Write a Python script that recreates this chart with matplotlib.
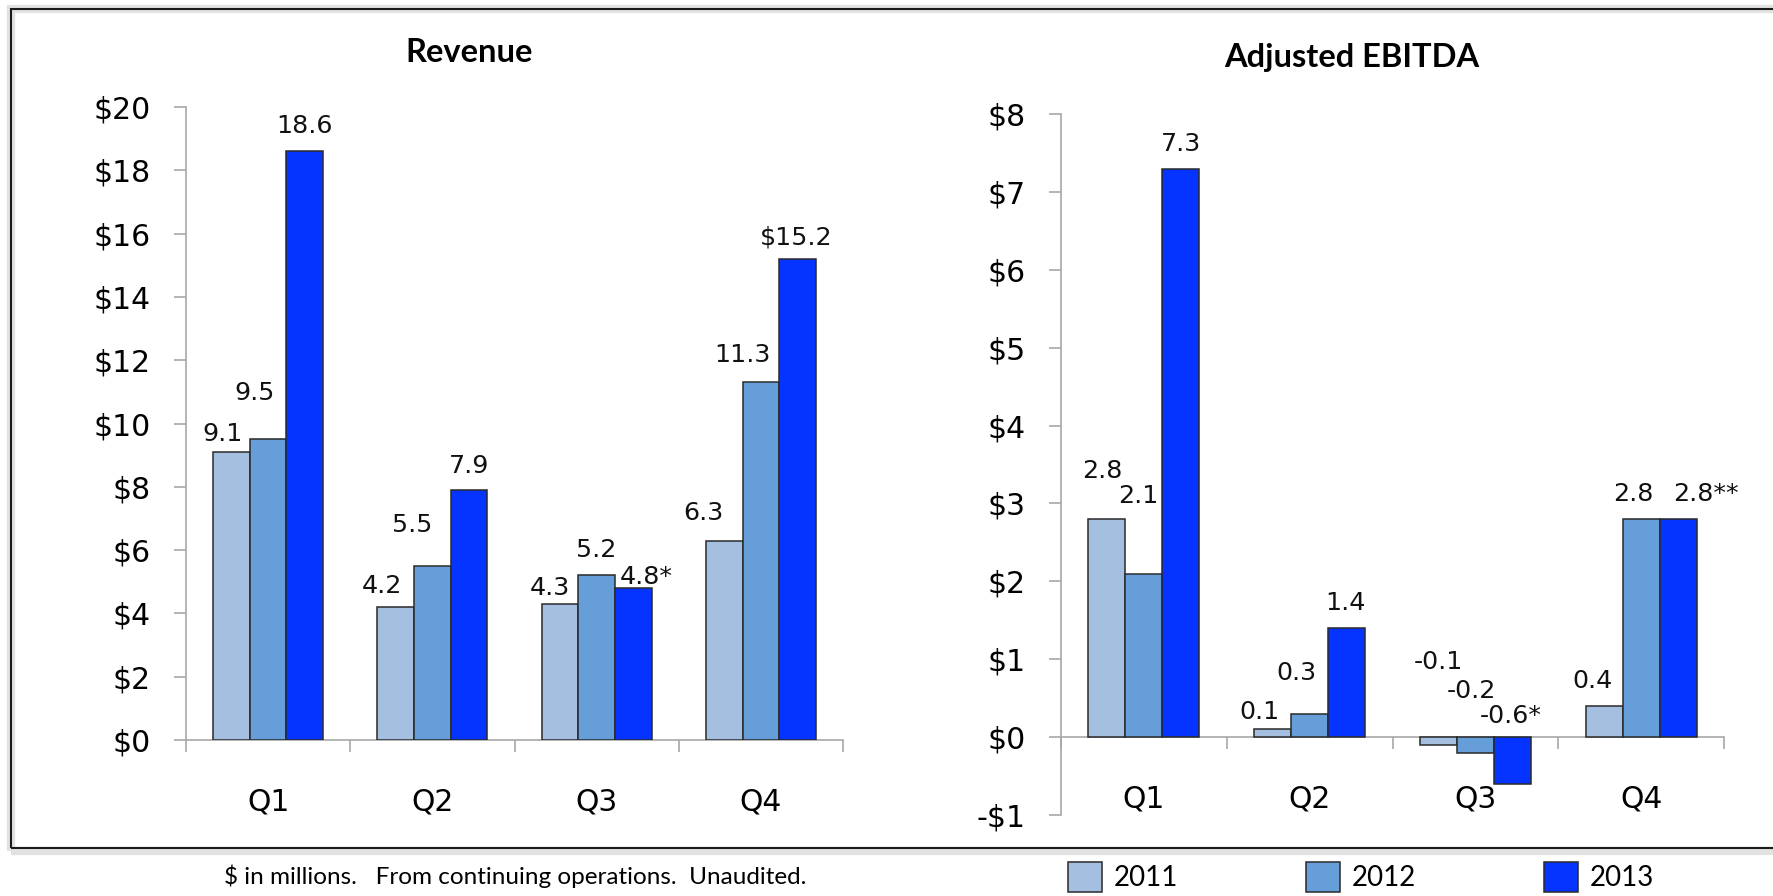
import matplotlib
matplotlib.use('Agg')
import matplotlib.pyplot as plt
from matplotlib.patches import Rectangle
import numpy as np

# ---------------- data ----------------
quarters = ['Q1', 'Q2', 'Q3', 'Q4']
years = ['2011', '2012', '2013']

revenue_2011 = [9.1, 4.2, 4.3, 6.3]
revenue_2012 = [9.5, 5.5, 5.2, 11.3]
revenue_2013 = [18.6, 7.9, 4.8, 15.2]
revenue_text_2011 = ['9.1', '4.2', '4.3', '6.3']
revenue_text_2012 = ['9.5', '5.5', '5.2', '11.3']
revenue_text_2013 = ['18.6', '7.9', '4.8*', '$15.2']

ebitda_2011 = [2.8, 0.1, -0.1, 0.4]
ebitda_2012 = [2.1, 0.3, -0.2, 2.8]
ebitda_2013 = [7.3, 1.4, -0.6, 2.8]
ebitda_text_2011 = ['2.8', '0.1', '-0.1', '0.4']
ebitda_text_2012 = ['2.1', '0.3', '-0.2', '2.8']
ebitda_text_2013 = ['7.3', '1.4', '-0.6*', '2.8**']

revenue_ticks = [0, 2, 4, 6, 8, 10, 12, 14, 16, 18, 20]
ebitda_ticks = [-1, 0, 1, 2, 3, 4, 5, 6, 7, 8]

# ---------------- layout / style ----------------
# label offsets in pixels (dx from bar centre, height above bar top / zero line)
rev_off = [
    [(-9, 11), (-14, 14), (-10, 9), (-21, 21)],
    [(-14, 39), (-20, 34), (0, 18), (-18, 20)],
    [(0, 18), (0, 17), (13, 4), (-1, 14)],
]
ebi_off = [
    [(-5, 41), (-13, 10), (0, 68), (-12, 18)],
    [(-6, 71), (-13, 34), (-4, 39), (-8, 18)],
    [(0, 18), (-1, 18), (-2, 14), (28, 18)],
]

W, H = 1773, 896
colors = ['#A4BFE0', '#659ED9', '#0533FF']
edge = '#2a2a2a'
axis_gray = '#A8A8A8'
bar_w = 0.2235

fig = plt.figure(figsize=(W / 100, H / 100), dpi=100)
fig.patch.set_facecolor('white')

# frame with soft shadow
fig.add_artist(Rectangle((11 / W, 1 - 851 / H), (W + 20) / W, (851 - 9) / H,
                         transform=fig.transFigure, fill=False,
                         edgecolor='#e2e2e2', lw=6, zorder=0))
fig.add_artist(Rectangle((11 / W, 1 - 848 / H), (W + 20) / W, (848 - 9) / H,
                         transform=fig.transFigure, fill=False,
                         edgecolor='#1a1a1a', lw=1.5, zorder=1))

ax1 = fig.add_axes([186 / W, 1 - 740 / H, (843 - 186) / W, (740 - 107) / H])
ax2 = fig.add_axes([1061 / W, 1 - 815 / H, (1724 - 1061) / W, (815 - 114) / H])

label_font = dict(family='DejaVu Sans', size=18.3, color='#111111')
tick_font_size = 21.5


def draw(ax, series, texts, offsets, ylim, ticks):
    x = np.arange(len(quarters))
    containers = []
    for k, (vals, txts, offs) in enumerate(zip(series, texts, offsets)):
        xs = x + (k - 1) * bar_w
        c = ax.bar(xs, vals, width=bar_w, color=colors[k], edgecolor=edge,
                   linewidth=1.1, zorder=3, label=years[k])
        containers.append(c)
        for xi, v, t, (dx, dy) in zip(xs, vals, txts, offs):
            ax.annotate(t, xy=(xi, max(v, 0)), xytext=(dx, dy),
                        textcoords='offset pixels', ha='center', va='baseline',
                        **label_font)
    ax.set_xlim(-0.5, len(quarters) - 0.5)
    ax.set_ylim(*ylim)
    for s in ['top', 'right']:
        ax.spines[s].set_visible(False)
    ax.spines['bottom'].set_position(('data', 0))
    for s in ['left', 'bottom']:
        ax.spines[s].set_color(axis_gray)
        ax.spines[s].set_linewidth(1.2)
    ax.set_xticks(np.arange(-0.5, len(quarters), 1.0))
    ax.set_xticklabels([])
    ax.tick_params(axis='x', direction='out', length=8.6, width=1.2,
                   color=axis_gray)
    ax.set_yticks(ticks)
    ax.set_yticklabels([('-$%d' % abs(t)) if t < 0 else ('$%d' % t) for t in ticks],
                       fontsize=tick_font_size, family='DejaVu Sans')
    ax.tick_params(axis='y', direction='out', length=9, width=1.2,
                   color=axis_gray, pad=16.5)
    for i, q in enumerate(quarters):
        ax.annotate(q, xy=(i, 0), xytext=(0, -62), textcoords='offset pixels',
                    ha='center', va='center', fontsize=tick_font_size,
                    family='DejaVu Sans')
    ax.set_facecolor('none')
    return containers


bars = draw(ax1, [revenue_2011, revenue_2012, revenue_2013],
            [revenue_text_2011, revenue_text_2012, revenue_text_2013],
            rev_off, (0, 20), revenue_ticks)
draw(ax2, [ebitda_2011, ebitda_2012, ebitda_2013],
     [ebitda_text_2011, ebitda_text_2012, ebitda_text_2013],
     ebi_off, (-1, 8), ebitda_ticks)

fig.text(469 / W, 1 - 62 / H, 'Revenue', ha='center', va='baseline',
         family='Lato', weight='bold', fontsize=23.5)
fig.text(1352 / W, 1 - 67 / H, 'Adjusted EBITDA', ha='center', va='baseline',
         family='Lato', weight='bold', fontsize=23.5)

fig.text(515 / W, 1 - 876 / H,
         '$ in millions.   From continuing operations.  Unaudited.',
         ha='center', va='center', family='Lato', fontsize=17.5)

fig.legend(handles=bars, labels=years, loc='upper left',
           bbox_to_anchor=(1068 / W, 1 - 862 / H), frameon=False, ncol=3,
           handlelength=1.22, handleheight=1.3, handletextpad=0.43,
           columnspacing=4.6, borderpad=0, borderaxespad=0,
           prop=dict(family='Lato', size=20))

fig.savefig('out.png', dpi=100, facecolor='white')
